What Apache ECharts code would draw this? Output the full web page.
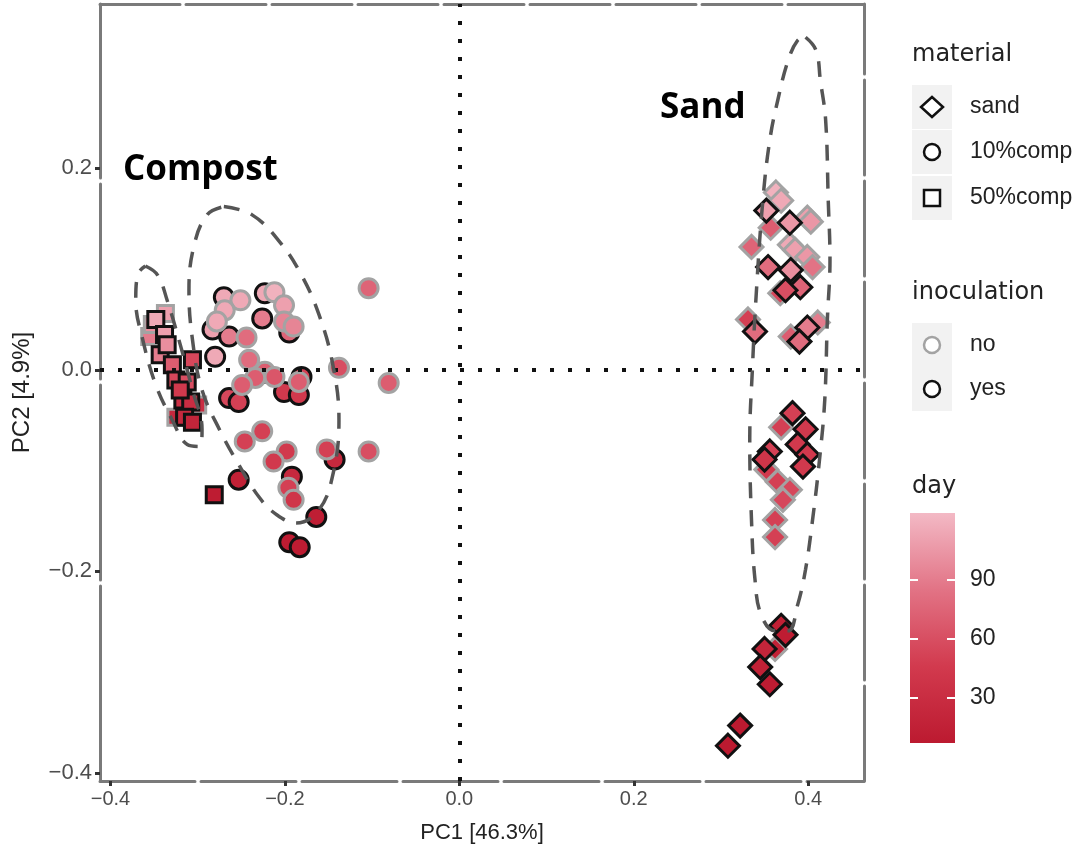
<!DOCTYPE html>
<html>
<head>
<meta charset="UTF-8">
<title>PCA</title>
<script src="https://cdn.jsdelivr.net/npm/echarts@6/dist/echarts.min.js"></script>
<style>
  html, body { margin: 0; padding: 0; background: #fff; }
  #main { width: 1079px; height: 853px; }
</style>
</head>
<body>
<div id="main"></div>
<script>
var chart = echarts.init(document.getElementById('main'));

// [PC1, PC2, day]
var sandNo = [
  [0.363, 0.176, 120], [0.369, 0.168, 115], [0.357, 0.141, 70], [0.399, 0.151, 110],
  [0.403, 0.147, 105], [0.335, 0.122, 75], [0.379, 0.124, 115], [0.385, 0.119, 110],
  [0.399, 0.112, 105], [0.405, 0.102, 85], [0.368, 0.076, 55], [0.331, 0.050, 50],
  [0.411, 0.047, 90], [0.380, 0.033, 70],
  [0.369, -0.057, 50], [0.365, -0.111, 50], [0.379, -0.119, 55], [0.371, -0.129, 55],
  [0.362, -0.149, 50], [0.362, -0.166, 50], [0.352, -0.099, 45], [0.362, -0.277, 15]
];
var sandYes = [
  [0.352, 0.158, 110], [0.379, 0.146, 105], [0.354, 0.102, 80], [0.380, 0.099, 100],
  [0.391, 0.082, 75], [0.374, 0.079, 60], [0.339, 0.038, 80], [0.399, 0.042, 90],
  [0.390, 0.028, 80],
  [0.382, -0.043, 50], [0.397, -0.059, 45], [0.388, -0.074, 45], [0.399, -0.084, 45],
  [0.394, -0.096, 45], [0.356, -0.081, 50], [0.350, -0.089, 40],
  [0.369, -0.254, 14], [0.374, -0.263, 10], [0.350, -0.277, 20], [0.345, -0.295, 15],
  [0.356, -0.312, 10], [0.322, -0.353, 7], [0.308, -0.373, 7]
];
var comp10No = [
  [-0.251, 0.069, 115], [-0.212, 0.077, 120], [-0.201, 0.064, 110], [-0.269, 0.059, 115],
  [-0.201, 0.048, 95], [-0.278, 0.048, 115], [-0.190, 0.043, 95], [-0.244, 0.032, 80],
  [-0.241, 0.010, 80], [-0.223, -0.002, 70], [-0.212, -0.007, 65], [-0.234, -0.008, 70],
  [-0.249, -0.015, 70], [-0.184, -0.012, 70], [-0.138, 0.002, 60], [-0.104, 0.081, 75],
  [-0.081, -0.013, 70], [-0.246, -0.071, 50], [-0.226, -0.061, 50], [-0.198, -0.081, 45],
  [-0.213, -0.091, 45], [-0.152, -0.079, 50], [-0.104, -0.081, 60], [-0.196, -0.117, 50],
  [-0.190, -0.129, 40]
];
var comp10Yes = [
  [-0.270, 0.072, 115], [-0.223, 0.076, 115], [-0.226, 0.051, 90], [-0.283, 0.040, 110],
  [-0.264, 0.033, 90], [-0.195, 0.037, 75], [-0.280, 0.013, 115], [-0.264, -0.028, 55],
  [-0.253, -0.032, 50], [-0.226, -0.003, 55], [-0.201, -0.022, 45], [-0.184, -0.025, 45],
  [-0.181, -0.007, 50], [-0.253, -0.109, 15], [-0.192, -0.106, 25], [-0.143, -0.089, 25],
  [-0.164, -0.146, 12], [-0.195, -0.171, 10], [-0.183, -0.176, 10]
];
var comp50No = [
  [-0.355, 0.033, 90], [-0.337, 0.056, 110], [-0.352, 0.045, 100], [-0.325, -0.047, 25],
  [-0.300, -0.035, 30]
];
var comp50Yes = [
  [-0.348, 0.050, 115], [-0.338, 0.035, 110], [-0.343, 0.015, 90], [-0.329, 0.005, 70],
  [-0.325, -0.010, 55], [-0.312, -0.012, 60], [-0.306, 0.010, 55], [-0.317, -0.030, 35],
  [-0.308, -0.032, 30], [-0.315, -0.047, 25], [-0.306, -0.052, 20], [-0.281, -0.124, 10],
  [-0.335, 0.025, 100], [-0.320, -0.020, 45]
];

// ellipse outlines, [PC1, PC2]
var ellipseComp10 = [
  [-0.270, 0.162], [-0.238, 0.154], [-0.206, 0.127], [-0.181, 0.094], [-0.161, 0.055],
  [-0.145, 0.005], [-0.138, -0.050], [-0.145, -0.104], [-0.161, -0.139], [-0.187, -0.152],
  [-0.209, -0.144], [-0.229, -0.127], [-0.253, -0.094], [-0.274, -0.061], [-0.295, -0.020],
  [-0.306, 0.030], [-0.310, 0.079], [-0.304, 0.124], [-0.289, 0.154]
];
var ellipseComp50 = [
  [-0.360, 0.103], [-0.346, 0.094], [-0.335, 0.069], [-0.320, 0.025], [-0.306, -0.020],
  [-0.295, -0.059], [-0.298, -0.076], [-0.312, -0.074], [-0.329, -0.050], [-0.348, -0.015],
  [-0.363, 0.030], [-0.371, 0.069], [-0.369, 0.094]
];
var ellipseSand = [
  [0.397, 0.330], [0.409, 0.317], [0.414, 0.287], [0.420, 0.248], [0.423, 0.168],
  [0.425, 0.109], [0.422, 0.050], [0.419, -0.030], [0.413, -0.089], [0.405, -0.149],
  [0.397, -0.198], [0.388, -0.233], [0.377, -0.259], [0.362, -0.259], [0.346, -0.243],
  [0.339, -0.208], [0.335, -0.149], [0.333, -0.069], [0.336, 0.000], [0.340, 0.069],
  [0.348, 0.168], [0.356, 0.228], [0.365, 0.267], [0.377, 0.307], [0.388, 0.327]
];

var xTicks = [-0.4, -0.2, 0, 0.2, 0.4];
var yTicks = [-0.4, -0.2, 0, 0.2];
var dayTicks = [30, 60, 90];
var dayMin = 7, dayMax = 124;
var dayColors = ['#bc1a30', '#d23a4e', '#e27385', '#f3b9c5'];
var materialLabels = ['sand', '10%comp', '50%comp'];
var inoculationLabels = ['no', 'yes'];

var noBorder = '#a3a3a3', yesBorder = '#111';

function fmt(v) {
  return (v < 0 ? '\u2212' : '') + Math.abs(v).toFixed(1);
}

function pointSeries(data, symbol, size, border) {
  return {
    type: 'scatter', xAxisIndex: 0, yAxisIndex: 0, data: data,
    symbol: symbol, symbolSize: size, z: 3,
    itemStyle: { borderColor: border, borderWidth: 3, opacity: 1 }
  };
}

function ellipseSeries(pts) {
  return {
    type: 'line', xAxisIndex: 0, yAxisIndex: 0, data: pts.concat([pts[0]]),
    smooth: 0.4, symbol: 'none', silent: true, z: 5,
    lineStyle: { color: '#555', width: 3.5, type: [16, 12] }
  };
}

function frame(dash) {
  return { show: true, onZero: false, lineStyle: { color: '#7a7a7a', width: 3, type: [dash, 6] } };
}

// legend drawn by hand (shape key, border key, colour bar)
var LX = 912;
var legendGraphics = [];
function title(text, y) {
  legendGraphics.push({ type: 'text', x: LX, y: y,
    style: { text: text, font: '24px "DejaVu Sans"', fill: '#222', verticalAlign: 'middle' } });
}
function keyRow(y, label, shape, stroke) {
  legendGraphics.push({ type: 'rect', shape: { x: LX, y: y - 22, width: 40, height: 44 }, style: { fill: '#f2f2f2' } });
  var st = { fill: '#fff', stroke: stroke, lineWidth: 2.5 };
  if (shape === 'diamond') {
    legendGraphics.push({ type: 'polygon', shape: { points: [[LX + 20, y - 10], [LX + 31, y], [LX + 20, y + 10], [LX + 9, y]] }, style: st });
  } else if (shape === 'circle') {
    legendGraphics.push({ type: 'circle', shape: { cx: LX + 20, cy: y, r: 8 }, style: st });
  } else {
    legendGraphics.push({ type: 'rect', shape: { x: LX + 12, y: y - 8, width: 16, height: 16 }, style: st });
  }
  legendGraphics.push({ type: 'text', x: LX + 58, y: y,
    style: { text: label, font: '23px "Liberation Sans"', fill: '#222', verticalAlign: 'middle' } });
}
title('material', 55);
keyRow(107, materialLabels[0], 'diamond', yesBorder);
keyRow(152, materialLabels[1], 'circle', yesBorder);
keyRow(198, materialLabels[2], 'rect', yesBorder);
title('inoculation', 293);
keyRow(345, inoculationLabels[0], 'circle', noBorder);
keyRow(389, inoculationLabels[1], 'circle', yesBorder);
title('day', 487);
legendGraphics.push({
  type: 'rect', shape: { x: 910, y: 513, width: 45, height: 230 },
  style: { fill: new echarts.graphic.LinearGradient(0, 1, 0, 0, dayColors.map(function (c, i) {
    return { offset: i / (dayColors.length - 1), color: c };
  })) }
});
legendGraphics.push({ type: 'text', x: 123, y: 170,
  style: { text: 'Compost', font: 'bold 35px "Open Sans"', fill: '#000', verticalAlign: 'middle' } });
legendGraphics.push({ type: 'text', x: 660, y: 108,
  style: { text: 'Sand', font: 'bold 35px "Open Sans"', fill: '#000', verticalAlign: 'middle' } });

var option = {
  backgroundColor: '#fff',
  animation: false,
  grid: [
    { left: 100, right: 215, top: 4, bottom: 72 },
    { left: 910, top: 513, width: 45, height: 230 }
  ],
  xAxis: [
    {
      type: 'value', gridIndex: 0, min: -0.412, max: 0.464, position: 'bottom',
      name: 'PC1 [46.3%]', nameLocation: 'middle', nameGap: 41,
      nameTextStyle: { fontFamily: 'Liberation Sans', fontSize: 22, color: '#222' },
      axisLine: frame(95),
      axisTick: { show: true, length: 5, lineStyle: { color: '#333', width: 3 }, customValues: xTicks },
      axisLabel: { customValues: xTicks, formatter: fmt, margin: 8, fontFamily: 'Liberation Sans', fontSize: 20, color: '#4d4d4d' },
      splitLine: { show: false }
    },
    {
      type: 'value', gridIndex: 0, min: -0.412, max: 0.464, position: 'top',
      axisLine: frame(80), axisTick: { show: false }, axisLabel: { show: false }, splitLine: { show: false }
    },
    { type: 'value', gridIndex: 1, show: false, min: 0, max: 1 }
  ],
  yAxis: [
    {
      type: 'value', gridIndex: 0, min: -0.408, max: 0.363, position: 'left',
      name: 'PC2 [4.9%]', nameLocation: 'middle', nameGap: 66, nameRotate: 90,
      nameTextStyle: { fontFamily: 'Liberation Sans', fontSize: 24, color: '#222' },
      axisLine: frame(195),
      axisTick: { show: true, length: 5, lineStyle: { color: '#333', width: 3 }, customValues: yTicks },
      axisLabel: { customValues: yTicks, formatter: fmt, margin: 8, fontFamily: 'Liberation Sans', fontSize: 22, color: '#4d4d4d' },
      splitLine: { show: false }
    },
    {
      type: 'value', gridIndex: 0, min: -0.408, max: 0.363, position: 'right',
      axisLine: frame(95), axisTick: { show: false }, axisLabel: { show: false }, splitLine: { show: false }
    },
    {
      type: 'value', gridIndex: 1, min: dayMin, max: dayMax, position: 'left', z: 10,
      axisLine: { show: false }, splitLine: { show: false }, axisLabel: { show: false },
      axisTick: { show: true, inside: true, length: 8, lineStyle: { color: '#fff', width: 2 }, customValues: dayTicks }
    },
    {
      type: 'value', gridIndex: 1, min: dayMin, max: dayMax, position: 'right', z: 10,
      axisLine: { show: false }, splitLine: { show: false },
      axisTick: { show: true, inside: true, length: 8, lineStyle: { color: '#fff', width: 2 }, customValues: dayTicks },
      axisLabel: { customValues: dayTicks, margin: 15, fontFamily: 'Liberation Sans', fontSize: 23, color: '#222' }
    }
  ],
  visualMap: {
    type: 'continuous', show: false, dimension: 2, min: dayMin, max: dayMax,
    seriesIndex: [0, 1, 2, 3, 4, 5],
    inRange: { color: dayColors }
  },
  graphic: legendGraphics,
  series: [
    pointSeries(comp10Yes, 'circle', 19, yesBorder),
    pointSeries(comp10No, 'circle', 19, noBorder),
    pointSeries(comp50No, 'rect', 16, noBorder),
    pointSeries(comp50Yes, 'rect', 16, yesBorder),
    pointSeries(sandNo, 'diamond', 23, noBorder),
    pointSeries(sandYes, 'diamond', 23, yesBorder),
    ellipseSeries(ellipseComp10),
    ellipseSeries(ellipseComp50),
    ellipseSeries(ellipseSand),
    {
      type: 'line', xAxisIndex: 0, yAxisIndex: 0, data: [], z: 6,
      markLine: {
        silent: true, symbol: 'none', label: { show: false }, animation: false,
        lineStyle: { color: '#111', width: 4, type: [4, 14] },
        data: [{ xAxis: 0 }, { yAxis: 0 }]
      }
    }
  ]
};

chart.setOption(option);
</script>
</body>
</html>
